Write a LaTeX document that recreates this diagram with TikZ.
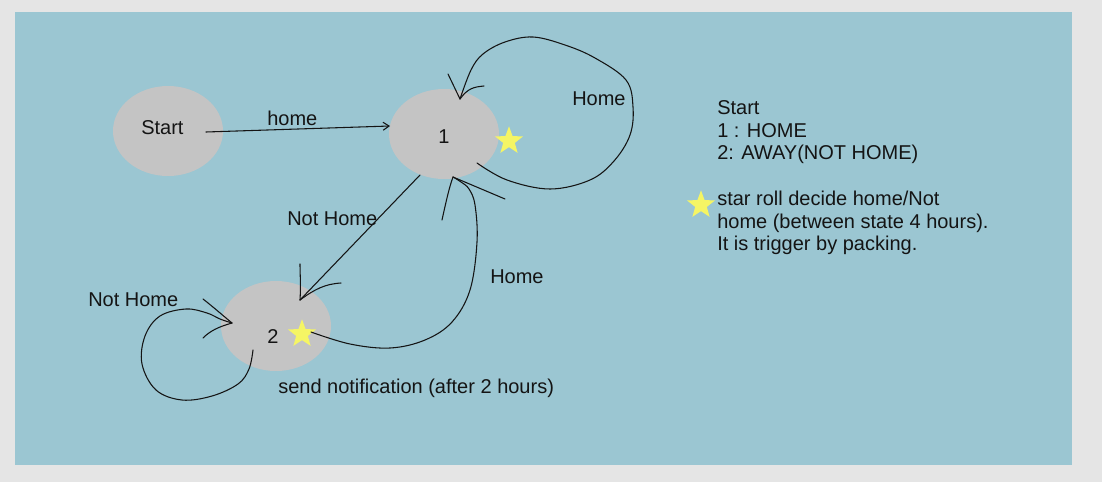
\documentclass[tikz,border=0pt]{standalone}
\usepackage{fontspec}
\setmainfont{Liberation Sans}
\usetikzlibrary{shapes.geometric,arrows.meta}
\definecolor{outerbg}{RGB}{229,229,229}
\definecolor{panelbg}{RGB}{155,198,210}
\definecolor{stategray}{RGB}{196,196,196}
\definecolor{staryel}{RGB}{245,245,100}
\definecolor{ink}{RGB}{20,20,20}
\begin{document}
\begin{tikzpicture}[x=0.75pt,y=-0.75pt,
  statebox/.style={ellipse,fill=stategray,draw=none,minimum width=82.5pt,minimum height=67.5pt,inner sep=0pt},
  starmark/.style={star,star points=5,star point ratio=2.4,fill=staryel,draw=none,minimum size=22pt,inner sep=0pt},
  lbl/.style={anchor=base west,inner sep=0pt,font=\fontsize{15pt}{18pt}\selectfont,text=ink},
  pen/.style={draw=ink,line width=0.8pt,line cap=round,line join=round}]
\useasboundingbox (0,0) rectangle (1102,482);
\fill[outerbg] (0,0) rectangle (1102,482);
\fill[panelbg] (15,12) rectangle (1072,465);
% states
\node[statebox] (st) at (168,131) {};
\node[statebox] (s1) at (444,134) {};
\node[statebox] (s2) at (276,326) {};
% stars
\node[starmark] (star1) at (509,141) {};
\node[starmark] (star2) at (302,334) {};
\node[starmark] (star3) at (701,205) {};
% state texts
\node[lbl] (tst) at (141,134) {Start};
\node[lbl] (t1) at (438,143) {1};
\node[lbl] (t2) at (267,343) {2};
% edge labels
\node[lbl] (lhome) at (267,125) {home};
\node[lbl] (lHome1) at (572,105) {Home};
\node[lbl] (lNot1) at (287,225) {Not Home};
\node[lbl] (lHome2) at (490,283) {Home};
\node[lbl] (lNot2) at (88,306) {Not Home};
\node[lbl] (lsend) at (278,393) {send notification (after 2 hours)};
% legend
\node[lbl] (g1) at (717,114) {Start};
\node[lbl] (g2) at (717,137) {1 : HOME};
\node[lbl] (g3) at (717,159) {2: AWAY(NOT HOME)};
\node[lbl] (g4) at (717,205) {star roll decide home/Not};
\node[lbl] (g5) at (717,228) {home (between state 4 hours).};
\node[lbl] (g6) at (717,250) {It is trigger by packing.};
% connector end points
\coordinate (a0) at (206,132);
\coordinate (a1) at (390,126);
\coordinate (l1s) at (477,163);
\coordinate (l1t) at (460,99);
\coordinate (n1s) at (420,175);
\coordinate (n1t) at (300,300);
\coordinate (h2s) at (311,332);
\coordinate (h2t) at (453,177);
\coordinate (l2s) at (253,350);
\coordinate (l2t) at (232,323);
% Start -> 1
\draw[pen,-{Straight Barb[length=4.5pt,width=6pt]}] (a0) -- (a1);
% self loop on 1 (Home)
\draw[pen] plot[smooth,tension=0.6] coordinates {(l1s) (507,180) (550,189) (590,180) (614,161) (630,135) (633,107) (626,80) (595,58) (565,45) (533,37) (505,42) (483,54) (471,70) (l1t)};
\draw[pen] (l1t) -- (448,74);
\draw[pen] (l1t) .. controls (468,88) and (474,87) .. (484,86);
% 1 -> 2 (Not Home)
\draw[pen] (n1s) -- (n1t);
\draw[pen] (n1t) .. controls (301,285) and (300,275) .. (300,264);
\draw[pen] (n1t) .. controls (315,289) and (325,284) .. (341,283);
% 2 -> 1 (Home)
\draw[pen] plot[smooth,tension=0.6] coordinates {(h2s) (350,344) (390,348) (425,340) (452,322) (470,290) (477,242) (475,205) (469,189) (461,182) (h2t)};
\draw[pen] (h2t) .. controls (449,188) and (446,202) .. (442,220);
\draw[pen] (h2t) -- (505,199);
% self loop on 2 (Not Home)
\draw[pen] plot[smooth,tension=0.6] coordinates {(l2s) (249,369) (238,384) (212,396) (182,400) (156,390) (142,364) (145,336) (160,316) (186,309) (207,313) (220,319) (l2t)};
\draw[pen] (l2t) .. controls (220,313) and (212,306) .. (203,299);
\draw[pen] (l2t) .. controls (218,327) and (210,331) .. (203,338);
\end{tikzpicture}
\end{document}
